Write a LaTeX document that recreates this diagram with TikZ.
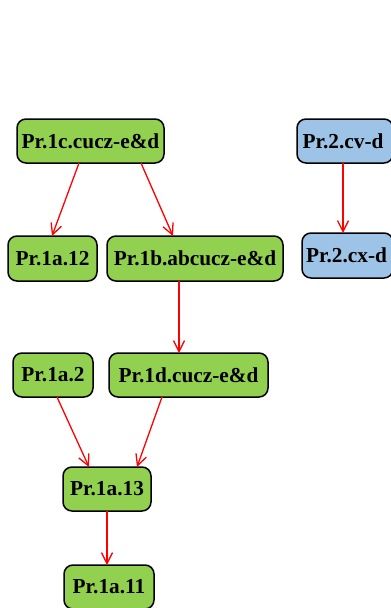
\documentclass[tikz,border=0pt]{standalone}
\usepackage{fontspec}
\setmainfont{Liberation Serif}
\usetikzlibrary{arrows.meta,calc}
\definecolor{grn}{RGB}{146,208,80}
\definecolor{blu}{RGB}{157,195,230}
\begin{document}
\begin{tikzpicture}[x=1pt,y=-1pt,
  box/.style={draw=black,line width=1.5pt,rounded corners=9pt,inner sep=0pt,outer sep=0pt,
    font=\fontsize{21.3}{25}\selectfont\bfseries,align=center},
  gbox/.style={box,fill=grn},
  bbox/.style={box,fill=blu},
  link/.style={draw=red,line width=1.3pt,-{Straight Barb[length=11pt,width=11pt,line width=1.3pt]}}]
\path[use as bounding box] (0,0) rectangle (391,608);
% first process family
\node[gbox,minimum width=147pt,minimum height=44pt] (c1) at (90.5,141) {Pr.1c.cucz-e\&d};
\node[gbox,minimum width=89pt,minimum height=45pt] (a12) at (52.5,258.5) {Pr.1a.12};
\node[gbox,minimum width=176pt,minimum height=45pt] (b1) at (195,258.5) {Pr.1b.abcucz-e\&d};
\node[gbox,minimum width=80pt,minimum height=44pt] (a2) at (53,375) {Pr.1a.2};
\node[gbox,minimum width=159pt,minimum height=44pt] (d1) at (188.5,375) {Pr.1d.cucz-e\&d};
\node[gbox,minimum width=88pt,minimum height=44pt] (a13) at (107,489) {Pr.1a.13};
\node[gbox,minimum width=90pt,minimum height=44pt] (a11) at (109,587) {Pr.1a.11};
% second process family
\node[bbox,minimum width=96pt,minimum height=44pt] (cv) at (345,141) {Pr.2.cv-d\hspace*{4pt}};
\node[bbox,minimum width=91pt,minimum height=45pt] (cx) at (347.5,255.5) {Pr.2.cx-d\hspace*{2pt}};
% dependencies
\draw[link] ($(c1.south)+(-11.5,0)$) -- ($(a12.north)+(-0.5,0)$);
\draw[link] ($(c1.south)+(50.5,0)$) -- ($(b1.north)+(-22,0)$);
\draw[link] ($(cv.south)+(-2,0)$) -- ($(cx.north)+(-4.5,0)$);
\draw[link] ($(b1.south)+(-16,0)$) -- ($(d1.north)+(-9.5,0)$);
\draw[link] ($(a2.south)+(4,0)$) -- ($(a13.north)+(-18,0)$);
\draw[link] ($(d1.south)+(-26.5,0)$) -- ($(a13.north)+(30,0)$);
\draw[link] (a13.south) -- ($(a11.north)+(-2,0)$);
\end{tikzpicture}
\end{document}
